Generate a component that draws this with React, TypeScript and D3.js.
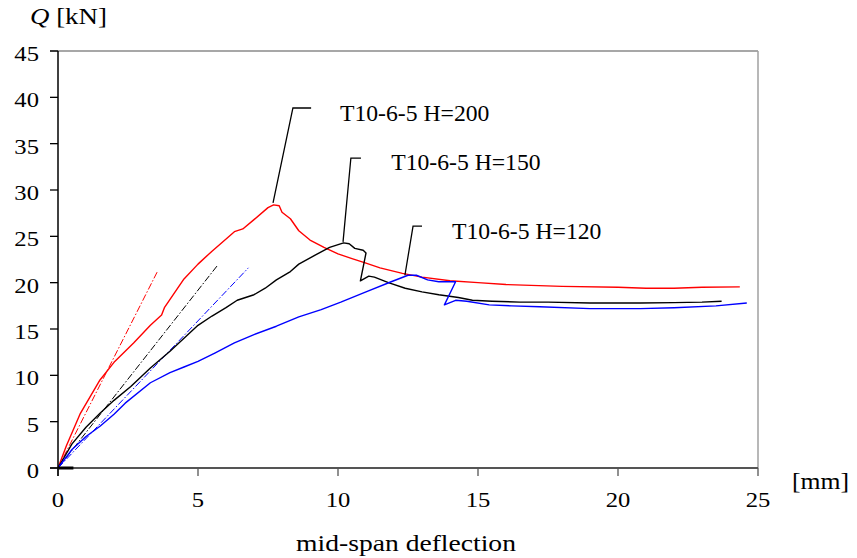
import React from "react";
import * as d3 from "d3";

type Pt = [number, number];

// measured load-deflection curves (deflection mm, load kN)
const h200: Pt[] = [
  [0, 0], [0.3, 2.4], [0.8, 5.9], [1.5, 9.5], [2.0, 11.4], [2.7, 13.5], [3.3, 15.4],
  [3.7, 16.5], [3.8, 17.3], [4.5, 20.4], [5.0, 22.0], [5.5, 23.4], [6.3, 25.5],
  [6.6, 25.8], [7.0, 26.8], [7.5, 28.1], [7.7, 28.4], [7.9, 28.3], [8.0, 27.6],
  [8.3, 26.9], [8.6, 25.6], [9.0, 24.6], [9.5, 23.8], [10.0, 23.1], [10.5, 22.6],
  [11.0, 22.1], [11.5, 21.6], [12.3, 21.0], [13.0, 20.6], [14.0, 20.2], [15.0, 20.0],
  [16.0, 19.8], [18.0, 19.6], [20.0, 19.5], [21.0, 19.4], [22.0, 19.4], [23.0, 19.5],
  [24.35, 19.55],
];

const h150: Pt[] = [
  [0.55, 0], [0, 0], [0.5, 2.6], [1.0, 4.4], [1.5, 5.9], [2.0, 7.3], [2.6, 8.8],
  [3.3, 10.8], [4.0, 12.6], [4.5, 14.0], [5.0, 15.4], [5.5, 16.4], [6.0, 17.3],
  [6.4, 18.1], [7.0, 18.7], [7.4, 19.4], [7.8, 20.3], [8.3, 21.2], [8.6, 22.0],
  [9.2, 23.0], [9.7, 23.8], [10.2, 24.3], [10.4, 24.2], [10.6, 23.7], [10.9, 23.5],
  [11.0, 23.2], [10.8, 20.2], [11.1, 20.7], [11.3, 20.6], [11.8, 20.0], [12.4, 19.4],
  [13.0, 19.0], [13.6, 18.7], [14.3, 18.4], [14.8, 18.1], [15.5, 18.0], [16.5, 17.9],
  [17.5, 17.9], [19.0, 17.8], [20.8, 17.8], [22.0, 17.85], [23.0, 17.9], [23.7, 18.0],
];

const h120: Pt[] = [
  [0, 0], [0.5, 2.0], [1.0, 3.4], [1.5, 4.5], [2.0, 5.8], [2.4, 7.0], [3.3, 9.2],
  [4.0, 10.3], [4.5, 10.9], [5.0, 11.5], [5.6, 12.4], [6.3, 13.5], [7.0, 14.4],
  [7.8, 15.3], [8.6, 16.3], [9.4, 17.1], [10.1, 17.9], [11.0, 19.0], [11.9, 20.1],
  [12.5, 20.8], [12.8, 20.8], [13.2, 20.3], [13.6, 20.1], [14.2, 20.1], [13.8, 17.6],
  [14.2, 18.1], [14.6, 18.0], [15.4, 17.6], [16.2, 17.5], [17.2, 17.4], [19.0, 17.2],
  [20.8, 17.2], [22.0, 17.3], [23.5, 17.5], [24.6, 17.8],
];

// initial stiffness lines
const tan200: Pt[] = [[0, 0], [3.55, 21.2]];
const tan150: Pt[] = [[0, 0], [5.68, 21.8]];
const tan120: Pt[] = [[0, 0], [6.8, 21.6]];

// leader lines and labels
const lead200: Pt[] = [[7.68, 28.6], [8.39, 38.85], [9.04, 38.85]];
const lead150: Pt[] = [[10.18, 24.4], [10.46, 33.45], [10.82, 33.45]];
const lead120: Pt[] = [[12.39, 20.8], [12.68, 26.1], [13.0, 26.1]];
const labels = ["T10-6-5 H=200", "T10-6-5 H=150", "T10-6-5 H=120"];
const labelPos: Pt[] = [[10.07, 38.3], [11.9, 33.0], [14.07, 25.6]];

const xTicks = [0, 5, 10, 15, 20, 25];
const yTicks = [0, 5, 10, 15, 20, 25, 30, 35, 40, 45];

const W = 857;
const H = 558;
const font = "Liberation Serif";
const SX = 1.12;

const App: React.FC = () => {
  const x = d3.scaleLinear().domain([0, 25]).range([58, 758]);
  const y = d3.scaleLinear().domain([0, 45]).range([468, 51]);
  const line = d3
    .line<Pt>()
    .x((d) => x(d[0]))
    .y((d) => y(d[1]));

  const series = [
    { d: h200, c: "#ff0000", t: tan200 },
    { d: h150, c: "#000000", t: tan150 },
    { d: h120, c: "#0000ff", t: tan120 },
  ];
  const leaders = [lead200, lead150, lead120];

  const txt = (
    tx: number,
    ty: number,
    s: string,
    size: number,
    anchor: "start" | "middle" | "end",
    sx = SX
  ) => (
    <text
      key={s + tx + ty}
      transform={`translate(${tx},${ty}) scale(${sx},1)`}
      textAnchor={anchor}
      style={{ fontFamily: font, fontSize: size }}
      fill="#000"
    >
      {s}
    </text>
  );

  return (
    <svg
      width={W}
      height={H}
      style={{ position: "absolute", left: 0, top: 0, background: "#fff" }}
    >
      {/* frame */}
      <line x1={50} x2={758} y1={y(45)} y2={y(45)} stroke="#8a8a8a" strokeWidth={1.3} />
      <line x1={x(25)} x2={x(25)} y1={y(45)} y2={y(0)} stroke="#a0a0a0" strokeWidth={1.5} />

      {/* stiffness lines */}
      {series.map((s, i) => (
        <path
          key={"t" + i}
          d={line(s.t) ?? ""}
          fill="none"
          stroke={s.c}
          strokeWidth={1}
          strokeDasharray="7,2,1.5,2"
        />
      ))}

      {/* curves */}
      {series.map((s, i) => (
        <path
          key={"c" + i}
          d={line(s.d) ?? ""}
          fill="none"
          stroke={s.c}
          strokeWidth={1.4}
          strokeLinejoin="round"
        />
      ))}

      {/* leaders */}
      {leaders.map((l, i) => (
        <path key={"l" + i} d={line(l) ?? ""} fill="none" stroke="#000" strokeWidth={1.3} />
      ))}
      {labels.map((s, i) =>
        txt(x(labelPos[i][0]), y(labelPos[i][1]) + 8, s, 23, "start", 1.03)
      )}

      {/* x axis */}
      <line x1={50} x2={758} y1={y(0)} y2={y(0)} stroke="#555" strokeWidth={2} />
      <path d={line([[0, 0], [0.55, 0]]) ?? ""} stroke="#000" strokeWidth={3} />
      {xTicks.map((t) => (
        <line key={"xt" + t} x1={x(t)} x2={x(t)} y1={y(0)} y2={y(0) + 8} stroke="#555" strokeWidth={1.3} />
      ))}
      {xTicks.map((t) => txt(x(t), 507, String(t), 22, "middle"))}

      {/* y axis */}
      <line x1={x(0)} x2={x(0)} y1={y(45)} y2={y(0) + 8} stroke="#000" strokeWidth={1.5} />
      {yTicks.map((t) => (
        <line key={"yt" + t} x1={50} x2={x(0)} y1={y(t)} y2={y(t)} stroke="#000" strokeWidth={1.3} />
      ))}
      {yTicks.map((t) => txt(39, y(t) + 10, String(t), 22, "end"))}

      {/* titles */}
      <text
        transform={`translate(30,24) scale(${SX},1)`}
        style={{ fontFamily: font, fontSize: 24 }}
      >
        <tspan fontStyle="italic">Q</tspan> [kN]
      </text>
      {txt(792, 489, "[mm]", 24, "start", 1.07)}
      {txt(406, 551, "mid-span deflection", 24, "middle", 1.15)}
    </svg>
  );
};

export default App;
